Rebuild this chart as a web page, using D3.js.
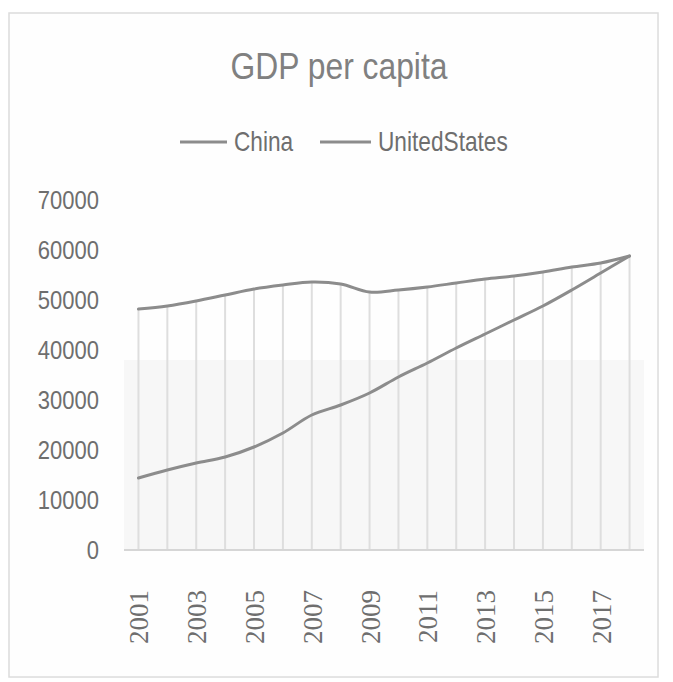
<!DOCTYPE html>
<html>
<head>
<meta charset="utf-8">
<script src="https://cdn.jsdelivr.net/npm/d3@7"></script>
<style>
  html, body { margin: 0; padding: 0; background: #ffffff; }
  svg { display: block; }
</style>
</head>
<body>
<svg id="chart" width="673" height="682"></svg>
<script>
// GDP per capita, China vs United States, 2001–2018
const years = ["2001","2002","2003","2004","2005","2006","2007","2008","2009",
               "2010","2011","2012","2013","2014","2015","2016","2017","2018"];
const china = [14400, 16000, 17400, 18600, 20600, 23400, 27000, 29000, 31400,
               34600, 37400, 40400, 43200, 46000, 48800, 52000, 55400, 58800];
const unitedStates = [48200, 48800, 49800, 51000, 52200, 53000, 53600, 53200, 51600,
                      52000, 52600, 53400, 54200, 54800, 55600, 56600, 57400, 58800];
const yTicks = [0, 10000, 20000, 30000, 40000, 50000, 60000, 70000];
const xTickLabels = ["2001","2003","2005","2007","2009","2011","2013","2015","2017"];
const seriesNames = ["China", "UnitedStates"];

const svg = d3.select("#chart");
const sans = "'Liberation Sans', Arial, sans-serif";
const serif = "'Liberation Serif', 'Times New Roman', 'DejaVu Serif', serif";
const lineColor = "#8c8c8c";
const textColor = "#6e6e6e";

// chart frame
svg.append("rect")
  .attr("x", 9).attr("y", 13)
  .attr("width", 649).attr("height", 664)
  .attr("fill", "#fefefe")
  .attr("stroke", "#dcdcdc")
  .attr("stroke-width", 1.5);

const x = d3.scalePoint().domain(years).range([124, 644]).padding(0.5);
const y = d3.scaleLinear().domain([0, 70000]).range([550, 200]);

// faint plot-area shading
svg.append("rect")
  .attr("x", 124).attr("y", 360)
  .attr("width", 520).attr("height", 190)
  .attr("fill", "#f7f7f7");

// condensed text: horizontally squeezed glyphs
function narrowText(g, tx, ty, str, size, sx, anchor, color, family) {
  return g.append("text")
    .attr("transform", `translate(${tx},${ty}) scale(${sx},1)`)
    .attr("text-anchor", anchor)
    .attr("font-family", family || sans)
    .attr("font-size", size)
    .attr("fill", color)
    .text(str);
}

// title
narrowText(svg, 339, 79, "GDP per capita", 37, 0.86, "middle", "#808080");

// legend
const legendItems = [
  { name: seriesNames[0], x1: 180, x2: 227, tx: 234 },
  { name: seriesNames[1], x1: 320, x2: 371, tx: 378 }
];
legendItems.forEach(d => {
  svg.append("line")
    .attr("x1", d.x1).attr("x2", d.x2)
    .attr("y1", 142).attr("y2", 142)
    .attr("stroke", lineColor).attr("stroke-width", 3);
  narrowText(svg, d.tx, 151, d.name, 27, 0.84, "start", textColor);
});

// drop lines from the higher series down to the axis
const tops = years.map((yr, i) => ({ yr, v: Math.max(china[i], unitedStates[i]) }));
svg.append("g").selectAll("line")
  .data(tops)
  .join("line")
  .attr("x1", d => x(d.yr)).attr("x2", d => x(d.yr))
  .attr("y1", d => y(d.v)).attr("y2", y(0))
  .attr("stroke", "#dedede")
  .attr("stroke-width", 2);

// y axis labels
const yAxis = d3.axisLeft(y).tickValues(yTicks).tickSize(0).tickPadding(0)
  .tickFormat(d3.format("d"));
const yg = svg.append("g").attr("transform", "translate(99,0)").call(yAxis);
yg.select(".domain").remove();
yg.selectAll("text")
  .attr("font-family", sans)
  .attr("font-size", 25)
  .attr("fill", textColor)
  .attr("x", 0)
  .attr("transform", "scale(0.88,1)");

// x axis
const xAxis = d3.axisBottom(x).tickSize(0).tickPadding(0)
  .tickFormat(d => xTickLabels.includes(d) ? d : "");
const xg = svg.append("g").attr("transform", "translate(0,550)").call(xAxis);
xg.select(".domain")
  .attr("stroke", "#d6d6d6")
  .attr("stroke-width", 2)
  .attr("d", `M${x.range()[0]},0H${x.range()[1]}`);
xg.selectAll("text")
  .attr("font-family", serif)
  .attr("font-size", 27)
  .attr("fill", textColor)
  .attr("text-anchor", "end")
  .attr("dy", "0.35em")
  .attr("transform", "translate(0,40) rotate(-90)")
  .attr("x", 0).attr("y", 0);

// series lines
const line = d3.line()
  .x((d, i) => x(years[i]))
  .y(d => y(d))
  .curve(d3.curveCatmullRom);

[china, unitedStates].forEach(vals => {
  svg.append("path")
    .datum(vals)
    .attr("d", line)
    .attr("fill", "none")
    .attr("stroke", lineColor)
    .attr("stroke-width", 3)
    .attr("stroke-linecap", "round");
});
</script>
</body>
</html>
